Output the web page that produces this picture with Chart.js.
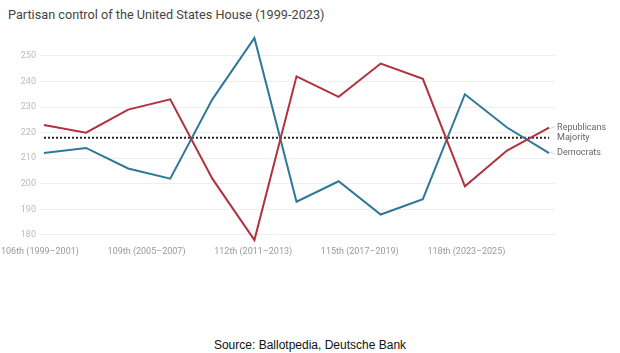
<!DOCTYPE html>
<html><head><meta charset="utf-8">
<script src="https://cdn.jsdelivr.net/npm/chart.js@4"></script>
<style>
html,body{margin:0;padding:0;background:#fff;}
#wrap{position:relative;width:620px;height:353px;}
#title{position:absolute;left:8px;top:7px;font:12.7px Roboto,sans-serif;color:#444;}
#src{position:absolute;left:0;width:620px;top:338px;text-align:center;font:12px "Liberation Sans",Arial,sans-serif;color:#111;}
#cv{position:absolute;left:0;top:26px;}
</style></head><body>
<div id="wrap">
<div id="title">Partisan control of the United States House (1999-2023)</div>
<canvas id="cv" width="620" height="232"></canvas>
<div id="src">Source: Ballotpedia, Deutsche Bank</div>
</div>
<script>
const congresses = ["106th","107th","108th","109th","110th","111th","112th","113th","114th","115th","116th","117th","118th"];
const republicans = [223,220,229,233,202,178,242,234,247,241,199,213,222];
const democrats   = [212,214,206,202,233,257,193,201,188,194,235,222,212];
const majority = 218;
const xTickLabels = ["106th (1999\u20132001)","109th (2005\u20132007)","112th (2011\u20132013)","115th (2017\u20132019)","118th (2023\u20132025)"];
const yTicks = [180,190,200,210,220,230,240,250];
const seriesLabels = ["Republicans","Majority","Democrats"];

const pts = arr => arr.map((v,i)=>({x:i,y:v}));
const RED = '#b2303f', BLUE = '#2d7996';

const endLabels = {
  id:'endLabels',
  afterDatasetsDraw(chart){
    const {ctx, scales:{x,y}} = chart;
    const last = congresses.length-1;
    const vals = [republicans[last], majority, democrats[last]];
    ctx.save();
    ctx.font = '9px Roboto, sans-serif';
    ctx.fillStyle = '#666';
    ctx.textBaseline = 'middle';
    const px = x.getPixelForValue(last);
    vals.forEach((v,i)=>{
      const py = y.getPixelForValue(v);
      if(i!==1){
        ctx.strokeStyle = '#ccc'; ctx.lineWidth = 0.8;
        ctx.beginPath(); ctx.moveTo(px+1,py+(i===0?1:-1)); ctx.lineTo(px+6,py+(i===0?-1:1)); ctx.stroke();
      }
      ctx.fillText(seriesLabels[i], px+8, py);
    });
    ctx.restore();
  }
};

new Chart(document.getElementById('cv'), {
  type:'line',
  data:{
    datasets:[
      {label:'Majority', data:pts(congresses.map(()=>majority)), borderColor:'#222', borderWidth:2, borderDash:[2,2], pointRadius:0, order:3},
      {label:'Republicans', data:pts(republicans), borderColor:RED, borderWidth:2, pointRadius:0, tension:0, order:1},
      {label:'Democrats', data:pts(democrats), borderColor:BLUE, borderWidth:2, pointRadius:0, tension:0, order:2}
    ]
  },
  plugins:[endLabels],
  options:{
    responsive:false, animation:false,
    layout:{padding:{left:0,right:65,top:0,bottom:0}},
    plugins:{legend:{display:false}, tooltip:{enabled:false}},
    clip:false,
    scales:{
      x:{type:'linear', min:-0.095, max:12.14,
        afterBuildTicks(s){ const r=s.max-s.min; s.ticks = xTickLabels.map((_,k)=>({value:s.min + k*r*0.207})); },
        ticks:{autoSkip:false, maxRotation:0, padding:1, color:'#999', font:{size:9, family:'Roboto, sans-serif'},
          callback(v,i){ return xTickLabels[i]; }},
        grid:{display:false, drawTicks:false}, border:{display:false}},
      y:{min:176, max:258,
        afterBuildTicks(s){ s.ticks = yTicks.map(v=>({value:v})); },
        ticks:{color:'#bbb', padding:4, font:{size:9, family:'Roboto, sans-serif'}},
        grid:{color:'#eee', drawTicks:false}, border:{display:false}}
    }
  }
});
</script>
</body></html>
